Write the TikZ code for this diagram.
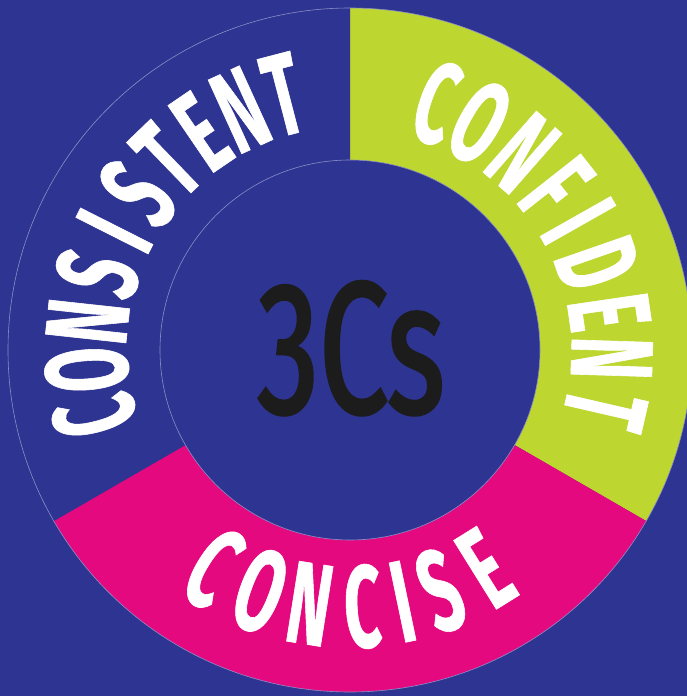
\documentclass[tikz,border=0pt]{standalone}
\usepackage{fontspec}
\newfontfamily\ringfont{Fira Sans}[FakeStretch=0.55, FakeBold=0.5]
\newfontfamily\titlefont{Fira Sans}[FakeStretch=0.66, FakeBold=1.6]
\definecolor{bg}{HTML}{2E3491}
\definecolor{lime}{HTML}{BDD630}
\definecolor{mag}{HTML}{E5097F}
\definecolor{rim}{HTML}{8A8EC8}
\definecolor{ink}{HTML}{1C1C1C}
\tikzset{
  ringletter/.style={inner sep=0pt, text=white,
    font=\ringfont\bfseries\fontsize{117}{117}\selectfont},
  titletext/.style={inner sep=0pt, text=ink, anchor=base,
    font=\titlefont\fontsize{188}{188}\selectfont},
  rimline/.style={draw=rim, line width=0.6pt}
}
\begin{document}
\begin{tikzpicture}[x=1pt,y=1pt]
\useasboundingbox (0,0) rectangle (687,696);
\clip (0,0) rectangle (687,696);
\fill[bg] (0,0) rectangle (687,696);
\coordinate (O) at (350,346);
% sectors
\fill[lime] (O) -- ([shift={(90:342)}]O) arc[start angle=90, end angle=-30, radius=342] -- cycle;
\fill[mag] (O) -- ([shift={(-30:342)}]O) arc[start angle=-30, end angle=-150, radius=342] -- cycle;
\fill[bg] (O) -- ([shift={(210:342)}]O) arc[start angle=210, end angle=90, radius=342] -- cycle;
\draw[rimline] (O) circle[radius=342];
\fill[bg] (O) circle[radius=190];
\draw[rimline] (O) circle[radius=190];
% CONSISTENT
\foreach \a/\l [count=\i] in {194.5/C,184.3/O,173.8/N,163.2/S,153.2/I,143.6/S,134/T,124.3/E,114.5/N,104.6/T}
  \node[ringletter, rotate=\a-90] (cons\i) at ([shift={(\a:264)}]O) {\l};
% CONFIDENT
\foreach \a/\l [count=\i] in {70.7/C,60.3/O,48.8/N,38.2/F,29.5/I,19.2/D,8.3/E,-1.8/N,-13/T}
  \node[ringletter, rotate=\a-90] (conf\i) at ([shift={(\a:262)}]O) {\l};
% CONCISE
\foreach \a/\l [count=\i] in {237.9/C,249.6/O,261/N,272.8/C,281.8/I,290.6/S,301.9/E}
  \node[ringletter, rotate=\a+90] (conc\i) at ([shift={(\a:257)}]O) {\l};
% title
\node[titletext] (title) at (351,283) {3Cs};
\end{tikzpicture}
\end{document}
